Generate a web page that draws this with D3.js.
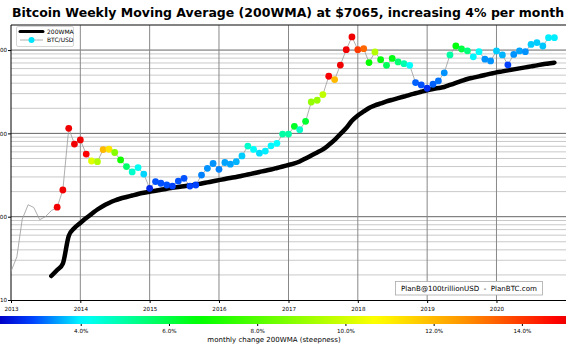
<!DOCTYPE html>
<html>
<head>
<meta charset="utf-8">
<script src="https://cdn.jsdelivr.net/npm/d3@7"></script>
<style>
  body { margin: 0; background: #fff; }
  svg { display: block; font-family: "DejaVu Sans", sans-serif; }
</style>
</head>
<body>
<svg id="drawing_region"></svg>
<script>
// monthly BTC/USD, Jan 2013 .. Nov 2020
const btcPrice = [
  22, 33, 93, 139, 129, 92, 100, 118, 130, 209, 1150, 745,
  835, 565, 466, 458, 640, 645, 590, 480, 400, 345, 389, 325,
  219, 264, 252, 240, 233, 268, 289, 233, 240, 316, 381, 435,
  370, 447, 427, 457, 536, 705, 642, 578, 613, 710, 760, 980,
  980, 1217, 1107, 1396, 2380, 2500, 2920, 4850, 4420, 6600, 10100, 14400,
  10100, 10400, 7070, 9480, 7670, 6570, 7930, 7200, 6870, 6570, 4070, 3820,
  3480, 3890, 4260, 5340, 8740, 11200, 10300, 9800, 8310, 9560, 7770, 7400,
  9770, 8740, 6660, 8880, 9770, 9560, 11700, 12300, 11200, 14100, 14100
];

// 200 week moving average, starts Aug 2013
const wma200 = [
  null, null, null, null, null, null, null, 19.4, 22.9, 27.4, 58.7, 73.2,
  84, 96.4, 107.7, 122, 134.4, 146, 156.4, 165.3, 172.3, 179.6, 187.3, 193.6,
  199.1, 204.6, 210.4, 216.3, 222.3, 227.3, 232.4, 237.5, 242.8, 250.4, 258.2, 266.2,
  274.5, 283.7, 291.6, 299.8, 309.8, 321.2, 332, 344.2, 355.8, 368.7, 384.6, 400.9,
  417.7, 435.4, 460.3, 500, 543, 590, 641, 726, 834, 984, 1161, 1416,
  1641, 1833, 2019, 2163, 2286, 2416, 2531, 2648, 2774, 2905, 3029, 3157,
  3289, 3412, 3508, 3606, 3811, 4028, 4257, 4499, 4667, 4831, 5023, 5212,
  5400, 5550, 5705, 5865, 6029, 6198, 6371, 6549, 6755, 6900, 7065
];

// monthly change of the 200WMA in %
const steepness = [
  null, null, null, null, null, null, null, null, 15, 15, 15, 15,
  15, 14.8, 10.2, 9.5, 12.0, 11.2, 8.8, 7.0, 5.6, 4.6, 4.2, 3.8,
  2.6, 3.0, 3.0, 3.0, 2.9, 3.0, 3.0, 2.9, 2.9, 3.3, 3.4, 3.4,
  3.3, 3.5, 3.5, 3.6, 3.75, 4.6, 4.1, 3.85, 3.95, 4.0, 4.05, 5.0,
  5.0, 6.3, 4.6, 6.2, 9.0, 9.1, 9.7, 14.9, 12.0, 15, 15, 15,
  14.0, 13.3, 6.8, 9.5, 6.6, 5.8, 6.5, 5.5, 4.9, 4.1, 3.1, 3.0,
  2.7, 3.1, 3.2, 3.4, 5.0, 6.6, 6.0, 5.4, 4.0, 4.1, 3.4, 3.4,
  3.75, 3.6, 2.9, 3.4, 3.5, 3.4, 3.75, 3.75, 3.7, 3.95, 3.95
];

const yearTicks = [2013, 2014, 2015, 2016, 2017, 2018, 2019, 2020];
const priceTicks = [10, 100, 1000, 10000];
const steepTicks = [4, 6, 8, 10, 12, 14];
const steepStops = [2.17, 2.9, 4.05, 6.7, 10.7, 12.6, 14.8, 15.0];
const stopColors = ['#0000c8', '#0040ff', '#00ffff', '#00ff00', '#ffff00', '#ff9900', '#ff0000', '#f00000'];

const W = 566, H = 350;
const svg = d3.select('#drawing_region').attr('width', W).attr('height', H);

const data = btcPrice.map((p, i) => ({
  date: new Date(2013, i, 1),
  price: p,
  wma: wma200[i],
  steep: steepness[i]
}));

const xscale = d3.scaleTime()
  .domain([new Date(2013, 0, 1), new Date(2021, 0, 1)])
  .range([11, 566]);
const yscale = d3.scaleLog().domain([10, 20000]).range([300, 25]);
const color = d3.scaleLinear().domain(steepStops).range(stopColors).clamp(true);

// title
svg.append('text')
  .attr('x', 12).attr('y', 17)
  .attr('font-size', 12.5).attr('font-weight', 'bold')
  .text('Bitcoin Weekly Moving Average (200WMA) at $7065, increasing 4% per month');

// grid
const minor = [];
priceTicks.forEach(d => { for (let m = 2; m <= 9; m++) if (d * m <= 20000) minor.push(d * m); });
const grid = svg.append('g');
grid.selectAll('.minor').data(minor).join('line')
  .attr('x1', 11).attr('x2', W)
  .attr('y1', d => yscale(d)).attr('y2', d => yscale(d))
  .attr('stroke', '#bbb').attr('stroke-width', 0.8);
grid.selectAll('.major').data(priceTicks.slice(1)).join('line')
  .attr('x1', 11).attr('x2', W)
  .attr('y1', d => yscale(d)).attr('y2', d => yscale(d))
  .attr('stroke', '#666').attr('stroke-width', 1);
grid.selectAll('.vert').data(yearTicks.slice(1)).join('line')
  .attr('x1', d => xscale(new Date(d, 0, 1))).attr('x2', d => xscale(new Date(d, 0, 1)))
  .attr('y1', 25).attr('y2', 300)
  .attr('stroke', '#888').attr('stroke-width', 1);

// frame top
svg.append('line').attr('x1', 11).attr('x2', W).attr('y1', 25).attr('y2', 25)
  .attr('stroke', '#222').attr('stroke-width', 1);

// axes
const xaxis = d3.axisBottom(xscale)
  .tickValues(yearTicks.map(y => new Date(y, 0, 1)))
  .tickFormat(d3.timeFormat('%Y'))
  .tickSize(3).tickSizeOuter(0);
const xg = svg.append('g').attr('transform', 'translate(0,300)').call(xaxis);
xg.selectAll('text').attr('font-size', 5.6).attr('font-family', 'DejaVu Sans').attr('dy', '0.9em');

const yaxis = d3.axisLeft(yscale)
  .tickValues(priceTicks)
  .tickFormat(d3.format('d'))
  .tickSize(3).tickSizeOuter(0);
const yg = svg.append('g').attr('transform', 'translate(11,0)').call(yaxis);
yg.selectAll('text').attr('font-size', 5.6).attr('font-family', 'DejaVu Sans').attr('x', -4);
yg.select('.domain').attr('d', 'M0,25V300');

// price line
const priceLine = d3.line()
  .x(d => xscale(d.date))
  .y(d => yscale(d.price));
svg.append('path')
  .attr('d', priceLine(data))
  .attr('fill', 'none').attr('stroke', '#999').attr('stroke-width', 0.8);

// 200WMA line
const wmaLine = d3.line()
  .defined(d => d.wma != null)
  .x(d => xscale(d.date))
  .y(d => yscale(d.wma))
  .curve(d3.curveMonotoneX);
svg.append('path')
  .attr('d', wmaLine(data))
  .attr('fill', 'none').attr('stroke', '#000').attr('stroke-width', 4.5)
  .attr('stroke-linecap', 'round').attr('stroke-linejoin', 'round');

// coloured dots
svg.append('g').selectAll('circle')
  .data(data.filter(d => d.steep != null))
  .join('circle')
  .attr('cx', d => xscale(d.date))
  .attr('cy', d => yscale(d.price))
  .attr('r', 3.4)
  .attr('fill', d => color(d.steep));

// legend
const lg = svg.append('g');
lg.append('rect').attr('x', 16.5).attr('y', 26.5).attr('width', 57).attr('height', 20)
  .attr('rx', 1.5).attr('fill', '#fff').attr('stroke', '#ccc').attr('stroke-width', 0.8);
lg.append('line').attr('x1', 20).attr('x2', 43).attr('y1', 31.5).attr('y2', 31.5)
  .attr('stroke', '#000').attr('stroke-width', 3).attr('stroke-linecap', 'round');
lg.append('text').attr('x', 47).attr('y', 33.5).attr('font-size', 6).text('200WMA');
lg.append('line').attr('x1', 20).attr('x2', 43).attr('y1', 40).attr('y2', 40)
  .attr('stroke', '#999').attr('stroke-width', 0.8);
lg.append('circle').attr('cx', 31.5).attr('cy', 40).attr('r', 3).attr('fill', '#00e5ff');
lg.append('text').attr('x', 47).attr('y', 42).attr('font-size', 6).text('BTC/USD');

// credit box
const cb = svg.append('g');
cb.append('rect').attr('x', 395.5).attr('y', 281.5).attr('width', 147).attr('height', 13.5)
  .attr('fill', '#fff').attr('stroke', '#aaa').attr('stroke-width', 0.8);
cb.append('text').attr('x', 469).attr('y', 291).attr('text-anchor', 'middle')
  .attr('font-size', 7.1).style('white-space', 'pre')
  .text('PlanB@100trillionUSD  -  PlanBTC.com');

// colorbar
const cscale = d3.scaleLinear().domain([2.17, 15.0]).range([0, W]);
const grad = svg.append('defs').append('linearGradient').attr('id', 'cbar')
  .attr('x1', '0%').attr('x2', '100%').attr('y1', '0%').attr('y2', '0%');
d3.range(0, 1.0001, 0.02).forEach(f => {
  const v = 2.17 + f * (15.0 - 2.17);
  grad.append('stop').attr('offset', (f * 100) + '%').attr('stop-color', color(v));
});
svg.append('rect').attr('x', 0).attr('y', 316).attr('width', W).attr('height', 8)
  .attr('fill', 'url(#cbar)');
const caxis = d3.axisBottom(cscale)
  .tickValues(steepTicks)
  .tickFormat(d => d3.format('.1f')(d) + '%')
  .tickSize(2).tickSizeOuter(0);
const cg = svg.append('g').attr('transform', 'translate(0,324)').call(caxis);
cg.select('.domain').remove();
cg.selectAll('text').attr('font-size', 5.6).attr('font-family', 'DejaVu Sans');
svg.append('text').attr('x', 274).attr('y', 342).attr('text-anchor', 'middle')
  .attr('font-size', 7).text('monthly change 200WMA (steepness)');
</script>
</body>
</html>
